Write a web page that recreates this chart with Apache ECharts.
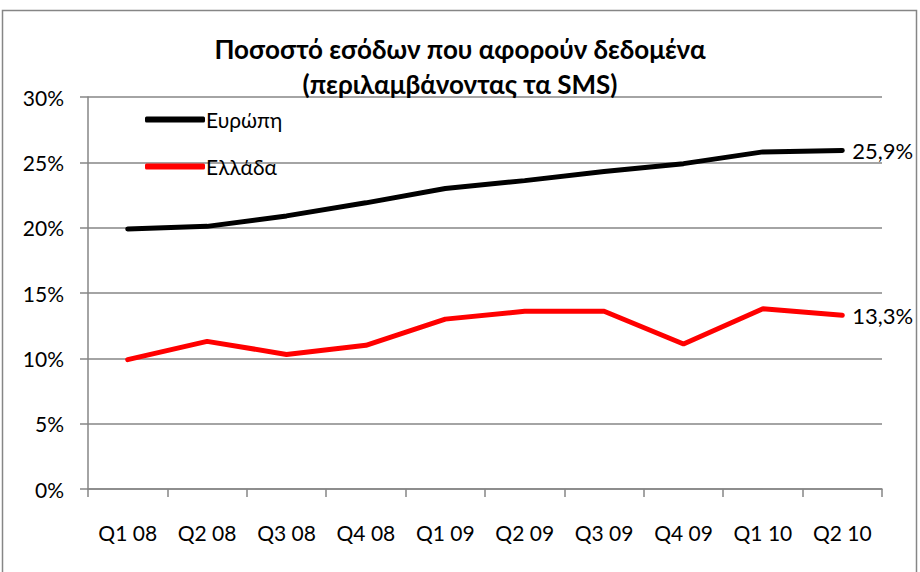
<!DOCTYPE html>
<html>
<head>
<meta charset="utf-8">
<script src="https://cdn.jsdelivr.net/npm/echarts@6.0.0/dist/echarts.min.js"></script>
<style>
  html, body { margin: 0; padding: 0; background: #fff; }
  #chart { width: 920px; height: 572px; }
</style>
</head>
<body>
<div id="chart"></div>
<script>
"use strict";

// Quarters on the x axis
const quarters = ["Q1 08", "Q2 08", "Q3 08", "Q4 08", "Q1 09", "Q2 09", "Q3 09", "Q4 09", "Q1 10", "Q2 10"];

// Share of revenue from data, % (last points labelled)
const europe = [19.9, 20.1, 20.9, 21.9, 23.0, 23.6, 24.3, 24.9, 25.8, 25.9];
const greece = [9.9, 11.3, 10.3, 11.0, 13.0, 13.6, 13.6, 11.1, 13.8, 13.3];

const seriesNames = ["Ευρώπη", "Ελλάδα"];
const titleText = "Ποσοστό εσόδων που αφορούν δεδομένα\n(περιλαμβάνοντας τα SMS)";

const FONT = "Lato, 'Open Sans', sans-serif";
const GRID = "#868686";

// Greek decimal comma
const pct = v => v.toFixed(1).replace(".", ",") + "%";

const endLabel = {
  show: true,
  formatter: p => pct(p.value),
  color: "#000",
  fontFamily: FONT,
  fontSize: 22,
  distance: 10,
};

const chart = echarts.init(document.getElementById("chart"), null, { renderer: "svg" });

chart.setOption({
  backgroundColor: "#fff",
  animation: false,
  textStyle: { fontFamily: FONT },
  title: {
    text: titleText,
    left: "center",
    top: 26,
    itemGap: 0,
    textStyle: {
      fontFamily: FONT,
      fontWeight: "bold",
      fontSize: 26,
      lineHeight: 35,
      color: "#000",
    },
  },
  // outer chart frame
  graphic: [{
    type: "rect",
    shape: { x: 2.5, y: 10.5, width: 914, height: 575 },
    style: { fill: "none", stroke: GRID, lineWidth: 1.5 },
    silent: true,
  }],
  legend: {
    orient: "vertical",
    left: 140,
    top: 104,
    itemWidth: 60,
    itemHeight: 6,
    itemGap: 26,
    icon: "roundRect",
    textStyle: { fontFamily: FONT, fontSize: 21, color: "#000", padding: [0, 0, 0, -4] },
    data: seriesNames,
  },
  grid: { left: 88, right: 38, top: 97, bottom: 83 },
  xAxis: {
    type: "category",
    data: quarters,
    boundaryGap: true,
    axisLine: { lineStyle: { color: GRID, width: 1.5 } },
    axisTick: { show: true, length: 8, lineStyle: { color: GRID, width: 1.5 } },
    axisLabel: { color: "#000", fontFamily: FONT, fontSize: 21, margin: 33 },
  },
  yAxis: {
    type: "value",
    min: 0,
    max: 30,
    interval: 5,
    axisLine: { show: true, lineStyle: { color: GRID, width: 1.5 } },
    axisTick: { show: true, length: 8, lineStyle: { color: GRID, width: 1.5 } },
    axisLabel: { color: "#000", fontFamily: FONT, fontSize: 21, margin: 24, formatter: "{value}%" },
    splitLine: { lineStyle: { color: GRID, width: 1.5 } },
  },
  series: [
    {
      name: seriesNames[0],
      type: "line",
      data: europe,
      symbol: "none",
      color: "#000",
      lineStyle: { width: 5, color: "#000", cap: "round" },
      endLabel,
    },
    {
      name: seriesNames[1],
      type: "line",
      data: greece,
      symbol: "none",
      color: "#ff0000",
      lineStyle: { width: 5, color: "#ff0000", cap: "round" },
      endLabel,
    },
  ],
});
</script>
</body>
</html>
